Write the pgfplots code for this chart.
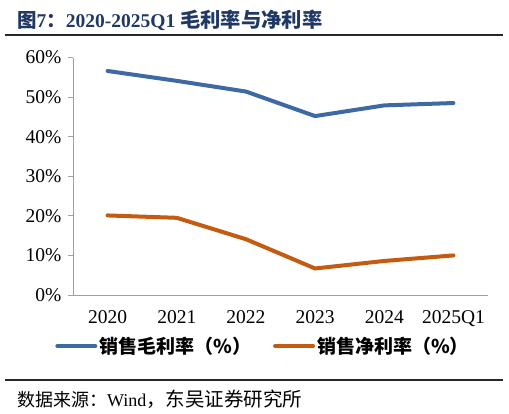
\documentclass[border=0pt]{standalone}
\usepackage{fontspec}
\usepackage{pgfplots}
\pgfplotsset{compat=1.18}
\setmainfont{Liberation Serif}
\newfontfamily\cjk{Noto Sans CJK SC}
\definecolor{blueL}{RGB}{62,106,164}
\definecolor{orangeL}{RGB}{197,90,17}
\definecolor{titleC}{RGB}{31,56,100}
\definecolor{axisC}{RGB}{160,160,160}
\begin{document}
\begin{tikzpicture}[x=1pt,y=1pt]
\path[use as bounding box] (0pt,0pt) rectangle (509pt,-414pt);
\node[anchor=west,inner sep=0,text=titleC] at (17pt,-20pt) {\fontsize{19.5}{22}\selectfont\bfseries{\cjk 图}7{\cjk ：}2020-2025Q1 {\cjk\fontsize{20.3}{22}\selectfont 毛利率与净利率}};
\draw[line width=2pt,black!85] (5pt,-35pt) -- (503pt,-35pt);
\draw[line width=2pt,black!85] (5pt,-380pt) -- (503pt,-380pt);
\node[anchor=west,inner sep=0] at (17pt,-399pt) {\fontsize{18}{21}\selectfont{\cjk 数据来源：}Wind{\cjk\fontsize{19.5}{21}\selectfont ，东吴证券研究所}};
\begin{axis}[
  at={(73pt,-295pt)}, anchor=south west,
  scale only axis, width=415pt, height=237.5pt,
  xmin=-0.5, xmax=5.5, ymin=0, ymax=60,
  xtick={0,1,2,3,4,5},
  xticklabels={2020,2021,2022,2023,2024,2025Q1},
  ytick={0,10,20,30,40,50,60},
  yticklabel={\pgfmathprintnumber[fixed,precision=0]{\tick}\%},
  /pgf/number format/assume math mode=true,
  axis x line*=bottom, axis y line*=left,
  axis line style={axisC, line width=1pt},
  x axis line style={-}, y axis line style={-},
  major tick length=5pt,
  xtick style={draw=none},
  ytick style={axisC, line width=1pt},
  tick align=outside,
  ticklabel style={font=\fontsize{19.5}{22}\selectfont, text=black},
  yticklabel style={xshift=-3pt},
  xticklabel style={yshift=-7pt},
  legend columns=2,
  legend style={at={(-0.043,-0.215)}, anchor=west, draw=none, fill=none,
    font=\fontsize{19}{22}\selectfont\cjk\bfseries, inner sep=0pt,
    /tikz/every even column/.append style={column sep=20pt}},
  legend image code/.code={\draw[#1, line width=4pt, line cap=round] (0pt,0pt) -- (38pt,0pt);},
]
\addplot[blueL, line width=4pt, line cap=round, line join=round] coordinates {(0,56.6) (1,54.1) (2,51.4) (3,45.2) (4,47.9) (5,48.5)};
\addlegendentry{销售毛利率（\%）}
\addplot[orangeL, line width=4pt, line cap=round, line join=round] coordinates {(0,20.1) (1,19.5) (2,14.1) (3,6.7) (4,8.6) (5,10.0)};
\addlegendentry{销售净利率（\%）}
\end{axis}
\end{tikzpicture}
\end{document}
